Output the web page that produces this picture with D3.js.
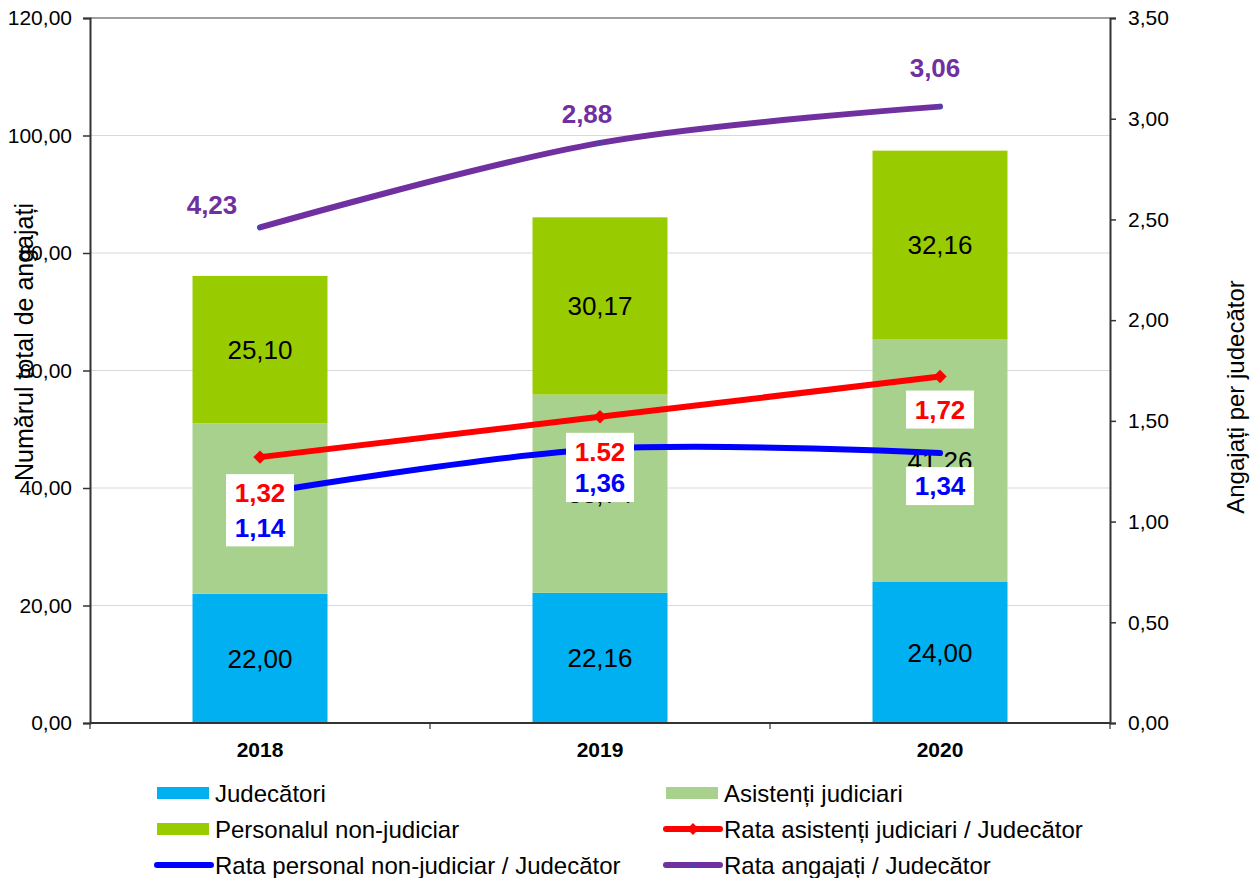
<!DOCTYPE html>
<html>
<head>
<meta charset="utf-8">
<script src="https://cdn.jsdelivr.net/npm/d3@7"></script>
<style>
  body { margin: 0; background: #fff; }
  text { font-family: "Liberation Sans", Arial, sans-serif; }
</style>
</head>
<body>
<script>
// Data
const years = ["2018", "2019", "2020"];
const judges = [22.00, 22.16, 24.00];
const assistants = [29.00, 33.74, 41.26];
const nonJudicial = [25.10, 30.17, 32.16];
const rateAssistants = [1.32, 1.52, 1.72];
const rateNonJudicial = [1.14, 1.36, 1.34];
const rateEmployees = [2.46, 2.88, 3.06];
// labels as printed on the chart
const rateAssistantsLabels = ["1,32", "1.52", "1,72"];
const rateNonJudicialLabels = ["1,14", "1,36", "1,34"];
const rateEmployeesLabels = ["4,23", "2,88", "3,06"];
const leftTicks = [0, 20, 40, 60, 80, 100, 120];
const rightTicks = [0, 0.5, 1, 1.5, 2, 2.5, 3, 3.5];

const W = 1259, H = 878;
const margin = { top: 18, left: 90, right: 149, bottom: 155 };
const width = W - margin.left - margin.right;
const height = H - margin.top - margin.bottom;

const svg = d3.select("body").append("svg").attr("width", W).attr("height", H);
const g = svg.append("g").attr("transform", `translate(${margin.left},${margin.top})`);

const fmt = v => d3.format(".2f")(v).replace(".", ",");

// Scales
const x = d3.scaleBand().domain(years).range([0, width]).paddingInner(0).paddingOuter(0);
const yL = d3.scaleLinear().domain([0, 120]).range([height, 0]);
const yR = d3.scaleLinear().domain([0, 3.5]).range([height, 0]);
const barW = 135;
const cx = d => x(d) + x.bandwidth() / 2;

// gridlines
g.append("g").selectAll("line").data(leftTicks.slice(1, -1)).join("line")
  .attr("x1", 0).attr("x2", width)
  .attr("y1", d => yL(d)).attr("y2", d => yL(d))
  .attr("stroke", "#d9d9d9").attr("stroke-width", 1.2);

// top border
g.append("line").attr("x1", 0).attr("x2", width).attr("y1", 0).attr("y2", 0)
  .attr("stroke", "#808080").attr("stroke-width", 1.5);

// stacked bars
const series = [
  { name: "Judecători", values: judges, color: "#00b0f0" },
  { name: "Asistenți judiciari", values: assistants, color: "#a9d18e" },
  { name: "Personalul non-judiciar", values: nonJudicial, color: "#99cc00" }
];
const stacked = years.map((yr, i) => {
  let base = 0;
  return series.map(s => {
    const seg = { year: yr, y0: base, y1: base + s.values[i], v: s.values[i], color: s.color };
    base += s.values[i];
    return seg;
  });
}).flat();

g.append("g").selectAll("rect").data(stacked).join("rect")
  .attr("x", d => cx(d.year) - barW / 2)
  .attr("width", barW)
  .attr("y", d => yL(d.y1))
  .attr("height", d => yL(d.y0) - yL(d.y1))
  .attr("fill", d => d.color);

g.append("g").selectAll("text").data(stacked).join("text")
  .attr("x", d => cx(d.year))
  .attr("y", d => yL((d.y0 + d.y1) / 2))
  .attr("dy", "0.36em")
  .attr("text-anchor", "middle")
  .attr("font-size", 26)
  .attr("fill", "#000")
  .text(d => fmt(d.v));

// axes
const axL = d3.axisLeft(yL).tickValues(leftTicks).tickSize(7).tickFormat(fmt);
const gL = g.append("g").call(axL);
gL.select(".domain").attr("stroke", "#333").attr("stroke-width", 2);
gL.selectAll(".tick line").attr("stroke", "#333").attr("stroke-width", 1.5);
gL.selectAll(".tick text").attr("font-size", 21).attr("x", -18).attr("fill", "#000")
  .style("font-family", "Liberation Sans, Arial, sans-serif");

const axR = d3.axisRight(yR).tickValues(rightTicks).tickSize(6).tickFormat(fmt);
const gR = g.append("g").attr("transform", `translate(${width},0)`).call(axR);
gR.select(".domain").attr("stroke", "#333").attr("stroke-width", 2);
gR.selectAll(".tick line").attr("stroke", "#333").attr("stroke-width", 1.5);
gR.selectAll(".tick text").attr("font-size", 21).attr("x", 18).attr("fill", "#000")
  .style("font-family", "Liberation Sans, Arial, sans-serif");

// bottom axis with category boundary ticks
g.append("line").attr("x1", 0).attr("x2", width).attr("y1", height).attr("y2", height)
  .attr("stroke", "#333").attr("stroke-width", 2);
g.append("g").selectAll("line").data([0, 1, 2, 3]).join("line")
  .attr("x1", i => i * x.bandwidth()).attr("x2", i => i * x.bandwidth())
  .attr("y1", height).attr("y2", height + 6)
  .attr("stroke", "#333").attr("stroke-width", 1.2);
g.append("g").selectAll("text").data(years).join("text")
  .attr("x", d => cx(d)).attr("y", height + 34)
  .attr("text-anchor", "middle").attr("font-size", 21).attr("font-weight", "bold")
  .text(d => d);

// axis titles
svg.append("text")
  .attr("transform", "translate(33,342) rotate(-90)")
  .attr("text-anchor", "middle").attr("font-size", 25)
  .text("Numărul total de angajați");
svg.append("text")
  .attr("transform", "translate(1244,397) rotate(-90)")
  .attr("text-anchor", "middle").attr("font-size", 24)
  .text("Angajați per judecător");

// lines
const smooth = d3.line().x((d, i) => cx(years[i])).y(d => yR(d)).curve(d3.curveCatmullRom.alpha(0.5));
const straight = d3.line().x((d, i) => cx(years[i])).y(d => yR(d));
const diamond = d3.symbol(d3.symbolSquare, 90);

g.append("path").datum(rateEmployees).attr("d", smooth)
  .attr("fill", "none").attr("stroke", "#7030a0").attr("stroke-width", 6).attr("stroke-linecap", "round");
g.append("g").selectAll("circle").data(rateEmployees).join("circle")
  .attr("cx", (d, i) => cx(years[i])).attr("cy", d => yR(d)).attr("r", 2)
  .attr("fill", "none").attr("stroke", "#3050c0").attr("stroke-width", 1);

g.append("path").datum(rateNonJudicial).attr("d", smooth)
  .attr("fill", "none").attr("stroke", "#0000ff").attr("stroke-width", 6).attr("stroke-linecap", "round");

g.append("path").datum(rateAssistants).attr("d", straight)
  .attr("fill", "none").attr("stroke", "#ff0000").attr("stroke-width", 6).attr("stroke-linecap", "round");
g.append("g").selectAll("path").data(rateAssistants).join("path")
  .attr("transform", (d, i) => `translate(${cx(years[i])},${yR(d)}) rotate(45)`)
  .attr("d", diamond)
  .attr("fill", "#ff0000");

// labels with white boxes
const boxLabel = (txt, color, px, py) => {
  const lb = g.append("g").attr("transform", `translate(${px},${py})`);
  lb.append("rect").attr("x", -34).attr("y", -19).attr("width", 68).attr("height", 38).attr("fill", "#fff");
  lb.append("text").attr("text-anchor", "middle").attr("dy", "0.36em")
    .attr("font-size", 26).attr("font-weight", "bold").attr("fill", color).text(txt);
};
// label offsets (pixels relative to the points)
const redOff = [[0, 36], [0, 35], [0, 33]];
const blueOff = [[0, 34], [0, 34], [0, 33]];
rateAssistants.forEach((v, i) => {
  boxLabel(rateAssistantsLabels[i], "#ff0000", cx(years[i]) + redOff[i][0], yR(v) + redOff[i][1]);
});
rateNonJudicial.forEach((v, i) => {
  boxLabel(rateNonJudicialLabels[i], "#0000ff", cx(years[i]) + blueOff[i][0], yR(v) + blueOff[i][1]);
});
const purpleOff = [[-48, -23], [-13, -29], [-5, -39]];
g.append("g").selectAll("text").data(rateEmployees).join("text")
  .attr("x", (d, i) => cx(years[i]) + purpleOff[i][0])
  .attr("y", (d, i) => yR(d) + purpleOff[i][1])
  .attr("dy", "0.36em").attr("text-anchor", "middle")
  .attr("font-size", 26).attr("font-weight", "bold").attr("fill", "#7030a0")
  .text((d, i) => rateEmployeesLabels[i]);

// legend
const legendItems = [
  { name: "Judecători", type: "rect", color: "#00b0f0" },
  { name: "Asistenți judiciari", type: "rect", color: "#a9d18e" },
  { name: "Personalul non-judiciar", type: "rect", color: "#99cc00" },
  { name: "Rata asistenți judiciari / Judecător", type: "diamond", color: "#ff0000" },
  { name: "Rata personal non-judiciar / Judecător", type: "line", color: "#0000ff" },
  { name: "Rata angajați / Judecător", type: "circle", color: "#7030a0" }
];
const lg = svg.append("g");
const li = lg.selectAll("g").data(legendItems).join("g")
  .attr("transform", (d, i) => `translate(${i % 2 === 0 ? 157 : 666},${793 + Math.floor(i / 2) * 36})`);
li.each(function (d) {
  const s = d3.select(this);
  if (d.type === "rect") {
    s.append("rect").attr("x", 0).attr("y", -6).attr("width", 52).attr("height", 12).attr("fill", d.color);
  } else {
    s.append("line").attr("x1", 0).attr("x2", 54).attr("y1", 0).attr("y2", 0)
      .attr("stroke", d.color).attr("stroke-width", 6).attr("stroke-linecap", "round");
    if (d.type === "diamond") {
      s.append("path").attr("transform", "translate(27,0) rotate(45)").attr("d", d3.symbol(d3.symbolSquare, 70)).attr("fill", d.color);
    }
    if (d.type === "circle") {
      s.append("circle").attr("cx", 27).attr("cy", 0).attr("r", 2).attr("fill", "none").attr("stroke", "#3050c0");
    }
  }
  s.append("text").attr("x", 58).attr("dy", "0.36em").attr("font-size", 24).text(d.name);
});
</script>
</body>
</html>
